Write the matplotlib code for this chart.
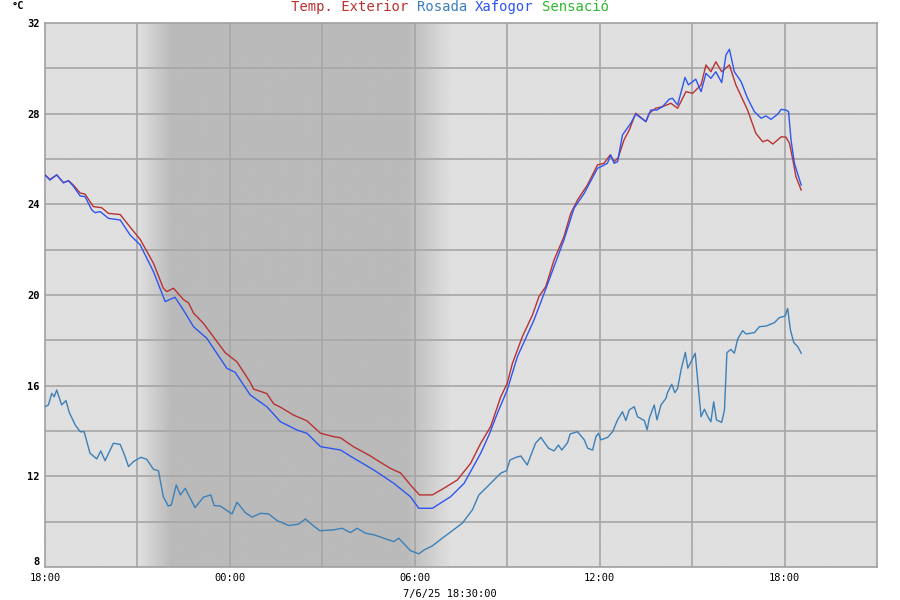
import numpy as np
import matplotlib
matplotlib.use("Agg")
import matplotlib.pyplot as plt
from matplotlib.offsetbox import TextArea, HPacker, AnchoredOffsetbox

# ---- data (hours since 18:00) ----
temp_h = [0.0, 0.16, 0.38, 0.6, 0.76, 0.92, 1.14, 1.30, 1.57, 1.84, 2.06, 2.44, 2.76, 3.09, 3.52, 3.84,
          3.95, 4.17, 4.49, 4.66, 4.82, 5.14, 5.47, 5.85, 6.23, 6.66, 6.77, 7.2, 7.42, 7.64, 8.07, 8.5,
          8.94, 9.37, 9.59, 9.91, 10.02, 10.56, 10.67, 11.21, 11.32, 11.54, 11.86, 12.15, 12.57, 12.94,
          13.38, 13.81, 14.14, 14.46, 14.79, 15.0, 15.17, 15.49, 15.82, 16.03, 16.25, 16.52, 16.84, 17.06,
          17.28, 17.6, 17.93, 18.14, 18.34, 18.47, 18.6, 18.79, 18.96, 19.17, 19.5, 19.61, 19.82, 20.04,
          20.31, 20.53, 20.8, 21.02, 21.29, 21.45, 21.61, 21.77, 21.96, 22.21, 22.42, 22.8, 23.07, 23.29,
          23.45, 23.62, 23.89, 24.05, 24.16, 24.27, 24.37, 24.54]
temp = [25.3, 25.1, 25.3, 24.95, 25.05, 24.85, 24.5, 24.45, 23.9, 23.85, 23.6, 23.55, 23.0, 22.45, 21.4, 20.3,
        20.15, 20.3, 19.8, 19.65, 19.2, 18.75, 18.15, 17.45, 17.05, 16.15, 15.85, 15.65, 15.2, 15.05, 14.7, 14.45,
        13.9, 13.75, 13.7, 13.4, 13.3, 12.9, 12.8, 12.35, 12.28, 12.15, 11.62, 11.18, 11.18, 11.47,
        11.84, 12.57, 13.46, 14.19, 15.51, 16.1, 16.99, 18.16, 19.12, 19.93, 20.37, 21.55, 22.57, 23.6,
        24.19, 24.85, 25.74, 25.81, 26.18, 25.88, 26.05, 26.84, 27.28, 28.02, 27.65, 28.02, 28.24, 28.31,
        28.46, 28.24, 28.97, 28.9, 29.27, 30.15, 29.85, 30.29, 29.85, 30.15, 29.27, 28.16, 27.13, 26.76,
        26.84, 26.66, 26.98, 26.96, 26.69, 25.96, 25.22, 24.63]

heat_h = [0.0, 0.16, 0.38, 0.6, 0.76, 0.92, 1.14, 1.30, 1.52, 1.63, 1.79, 2.06, 2.44, 2.76, 3.09, 3.52, 3.90,
          4.22, 4.49, 4.82, 5.25, 5.9, 6.17, 6.66, 7.2, 7.64, 8.18, 8.5, 8.94, 9.59, 10.02, 10.67, 11.32,
          11.86, 12.13, 12.57, 13.16, 13.6, 14.14, 14.41, 14.68, 15.0, 15.33, 15.87, 16.2, 16.84, 17.17,
          17.5, 17.93, 18.04, 18.25, 18.36, 18.47, 18.58, 18.74, 19.01, 19.17, 19.5, 19.66, 19.86, 20.04,
          20.25, 20.36, 20.53, 20.77, 20.88, 21.12, 21.29, 21.45, 21.61, 21.77, 21.96, 22.1, 22.21, 22.37,
          22.59, 22.8, 23.02, 23.24, 23.4, 23.56, 23.78, 23.89, 24.05, 24.13, 24.21, 24.32, 24.54]
heat = [25.3, 25.07, 25.3, 24.95, 25.04, 24.8, 24.37, 24.34, 23.75, 23.63, 23.68, 23.38, 23.31, 22.65, 22.21, 21.03, 19.71,
        19.9, 19.34, 18.6, 18.09, 16.77, 16.59, 15.59, 15.07, 14.41, 14.04, 13.9, 13.31, 13.16, 12.8, 12.28, 11.69,
        11.1, 10.59, 10.59, 11.1, 11.69, 13.02, 13.83, 14.78, 15.81, 17.28, 18.9, 20.08, 22.43, 23.83,
        24.49, 25.59, 25.66, 25.81, 26.18, 25.81, 25.88, 27.06, 27.58, 27.98, 27.65, 28.16, 28.16, 28.31,
        28.63, 28.68, 28.38, 29.6, 29.27, 29.52, 28.97, 29.78, 29.56, 29.85, 29.37, 30.59, 30.84, 29.85,
        29.41, 28.68, 28.09, 27.8, 27.9, 27.75, 27.98, 28.19, 28.16, 28.09, 26.84, 25.81, 24.85]

dew_h = [0.0, 0.11, 0.22, 0.3, 0.38, 0.54, 0.68, 0.79, 0.98, 1.14, 1.27, 1.46, 1.68, 1.81, 1.95, 2.22, 2.44,
         2.6, 2.71, 2.87, 3.11, 3.3, 3.52, 3.68, 3.84, 4.0, 4.1, 4.26, 4.39, 4.55, 4.87, 5.14, 5.38, 5.49,
         5.69, 6.07, 6.23, 6.5, 6.72, 6.99, 7.26, 7.53, 7.91, 8.23, 8.45, 8.67, 8.92, 9.37, 9.64, 9.91,
         10.13, 10.4, 10.67, 11.32, 11.48, 11.86, 12.13, 12.3, 12.57, 12.89, 13.11, 13.54, 13.87, 14.08,
         14.3, 14.52, 14.79, 14.98, 15.09, 15.27, 15.44, 15.65, 15.76, 15.92, 16.09, 16.34, 16.52, 16.66,
         16.77, 16.96, 17.04, 17.28, 17.5, 17.61, 17.77, 17.88, 17.96, 18.04, 18.26, 18.42, 18.58, 18.74,
         18.85, 18.96, 19.12, 19.23, 19.45, 19.54, 19.61, 19.77, 19.86, 19.99, 20.15, 20.2, 20.34, 20.44,
         20.53, 20.64, 20.78, 20.86, 20.99, 21.1, 21.18, 21.29, 21.4, 21.51, 21.61, 21.7, 21.79, 21.96,
         22.05, 22.13, 22.26, 22.37, 22.48, 22.64, 22.75, 23.02, 23.18, 23.4, 23.67, 23.83, 24.02, 24.1,
         24.19, 24.3, 24.43, 24.54]
dew = [15.07, 15.15, 15.66, 15.51, 15.81, 15.15, 15.34, 14.81, 14.27, 13.97, 13.97, 13.02, 12.77, 13.12, 12.69, 13.46, 13.41,
       12.87, 12.43, 12.65, 12.84, 12.75, 12.31, 12.25, 11.1, 10.69, 10.74, 11.62, 11.18, 11.47, 10.62, 11.08, 11.18, 10.71,
       10.69, 10.34, 10.86, 10.4, 10.2, 10.37, 10.34, 10.05, 9.83, 9.89, 10.12, 9.86, 9.6, 9.64, 9.71, 9.52,
       9.71, 9.49, 9.42, 9.12, 9.27, 8.72, 8.58, 8.75, 8.93, 9.27, 9.49, 9.93, 10.52, 11.18,
       11.47, 11.77, 12.14, 12.25, 12.72, 12.83, 12.9, 12.5, 12.9, 13.46, 13.72, 13.24, 13.12, 13.38,
       13.16, 13.49, 13.87, 13.97, 13.61, 13.24, 13.16, 13.75, 13.9, 13.61, 13.72, 13.97, 14.49, 14.85,
       14.46, 14.93, 15.07, 14.63, 14.46, 14.05, 14.56, 15.15, 14.49, 15.15, 15.44, 15.69, 16.06, 15.69,
       15.88, 16.69, 17.47, 16.77, 17.13, 17.43, 16.25, 14.63, 14.96, 14.63, 14.41, 15.29, 14.49, 14.38,
       14.93, 17.46, 17.6, 17.43, 18.06, 18.43, 18.28, 18.34, 18.6, 18.63, 18.78, 19.0, 19.07, 19.41,
       18.46, 17.9, 17.72, 17.43]

x_tick_hours = [0, 6, 12, 18, 24]
x_tick_labels = ["18:00", "00:00", "06:00", "12:00", "18:00"]
y_ticks = [8, 12, 16, 20, 24, 28, 32]
# twilight / night (hours since 18:00)
dusk_start, dusk_end, dawn_start, dawn_end = 3.0, 4.1, 11.75, 13.2

legend_words = ["Temp. Exterior", "Rosada", "Xafogor", "Sensació"]
legend_colors = ["#b83232", "#3a7fbf", "#2e55f0", "#2eb82e"]
c_temp, c_dew, c_heat = "#b83232", "#3d80b8", "#2e55f0"

mono = "DejaVu Sans Mono"

fig = plt.figure(figsize=(9, 6), dpi=100)
ax = fig.add_axes([45/900, 1-567/600, (877-45)/900, (567-23)/600])
ax.set_facecolor("#e0e0e0")
ax.set_xlim(0, 27)
ax.set_ylim(8, 32)

# night shading via gradient image
xs = np.linspace(0, 27, 1200)
light, dark = 0.878, 0.73
g = np.full_like(xs, light)
m1 = (xs >= dusk_start) & (xs < dusk_end)
g[m1] = light - (light - dark) * (xs[m1] - dusk_start) / (dusk_end - dusk_start)
m2 = (xs >= dusk_end) & (xs < dawn_start)
g[m2] = dark
m3 = (xs >= dawn_start) & (xs < dawn_end)
g[m3] = dark + (light - dark) * (xs[m3] - dawn_start) / (dawn_end - dawn_start)
ax.imshow(g[np.newaxis, :], extent=[0, 27, 8, 32], aspect="auto", cmap="gray",
          vmin=0, vmax=1, zorder=0, interpolation="bilinear")

# grid
for xv in np.arange(3, 27, 3):
    ax.axvline(xv, color="#a6a6a6", lw=1.2, zorder=1)
for yv in np.arange(10, 32, 2):
    ax.axhline(yv, color="#a6a6a6", lw=1.2, zorder=1)

ax.plot(dew_h, dew, color=c_dew, lw=1.0, zorder=3)
ax.plot(temp_h, temp, color=c_temp, lw=1.0, zorder=3)
ax.plot(heat_h, heat, color=c_heat, lw=1.0, zorder=4)

for s in ax.spines.values():
    s.set_color("#a0a0a0")
    s.set_linewidth(1.2)

ax.set_xticks(x_tick_hours)
ax.set_xticklabels(x_tick_labels, fontsize=7.5, family=mono)
ax.set_yticks(y_ticks)
ax.set_yticklabels([str(v) for v in y_ticks], fontsize=7.5, family=mono, fontweight="bold")
ax.tick_params(length=0, pad=4)
ylabs = ax.get_yticklabels()
ylabs[0].set_verticalalignment("bottom")

fig.text(450/900, 1-594/600, "7/6/25 18:30:00", ha="center", va="center", fontsize=7.5, family=mono)
fig.text(12/900, 1-6/600, "°C", ha="left", va="center", fontsize=7.5, family=mono, fontweight="bold")

areas = [TextArea(w, textprops=dict(color=c, fontsize=10, family=mono)) for w, c in zip(legend_words, legend_colors)]
pack = HPacker(children=areas, align="baseline", pad=0, sep=6)
anch = AnchoredOffsetbox(loc="center", child=pack, frameon=False,
                         bbox_to_anchor=(450/900, 1-7/600), bbox_transform=fig.transFigure, borderpad=0, pad=0)
fig.add_artist(anch)

fig.savefig("out.png", dpi=100)
